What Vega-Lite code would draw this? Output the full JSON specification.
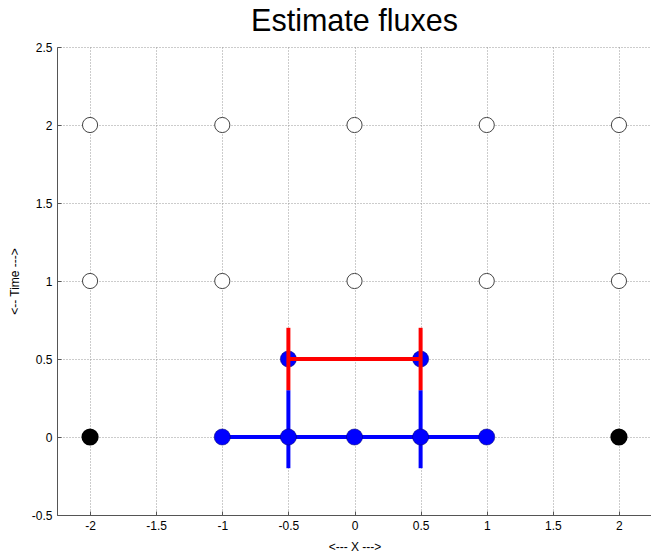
{
  "$schema": "https://vega.github.io/schema/vega-lite/v6.json",
  "width": 595,
  "height": 468,
  "autosize": {"type": "none"},
  "padding": {"left": 57, "top": 47, "right": 0, "bottom": 38},
  "background": "white",
  "config": {
    "font": "Liberation Sans",
    "view": {"stroke": null},
    "axis": {
      "grid": true,
      "gridColor": "#999999",
      "gridDash": [1, 2],
      "gridWidth": 1,
      "domainColor": "#555555",
      "domainWidth": 1,
      "tickColor": "#555555",
      "tickSize": -4,
      "labelColor": "black",
      "labelFontSize": 12,
      "labelFont": "Liberation Sans",
      "titleFont": "Liberation Sans",
      "titleFontWeight": "normal",
      "titleFontSize": 12,
      "titleColor": "black"
    }
  },
  "title": {
    "text": "Estimate fluxes",
    "fontSize": 30.5,
    "fontWeight": "normal",
    "font": "Liberation Sans",
    "color": "black",
    "anchor": "middle",
    "baseline": "bottom",
    "frame": "group",
    "offset": 12,
    "dy": 38
  },
  "datasets": {
    "segments": [
      {"x": -1, "y": 0, "x2": 1, "y2": 0, "c": "blue"},
      {"x": -0.5, "y": -0.2, "x2": -0.5, "y2": 0.3, "c": "blue"},
      {"x": 0.5, "y": -0.2, "x2": 0.5, "y2": 0.3, "c": "blue"}
    ],
    "redsegments": [
      {"x": -0.5, "y": 0.5, "x2": 0.5, "y2": 0.5, "c": "red"},
      {"x": -0.5, "y": 0.3, "x2": -0.5, "y2": 0.7, "c": "red"},
      {"x": 0.5, "y": 0.3, "x2": 0.5, "y2": 0.7, "c": "red"}
    ],
    "open": [
      {"x": -2, "y": 1}, {"x": -1, "y": 1}, {"x": 0, "y": 1}, {"x": 1, "y": 1}, {"x": 2, "y": 1},
      {"x": -2, "y": 2}, {"x": -1, "y": 2}, {"x": 0, "y": 2}, {"x": 1, "y": 2}, {"x": 2, "y": 2}
    ],
    "black": [
      {"x": -2, "y": 0}, {"x": 2, "y": 0}
    ],
    "bluepts": [
      {"x": -1, "y": 0}, {"x": -0.5, "y": 0}, {"x": 0, "y": 0}, {"x": 0.5, "y": 0}, {"x": 1, "y": 0},
      {"x": -0.5, "y": 0.5}, {"x": 0.5, "y": 0.5}
    ]
  },
  "layer": [
    {
      "data": {"name": "open"},
      "mark": {"type": "point", "shape": "circle", "filled": true, "fill": "white", "stroke": "#444444", "strokeWidth": 1, "size": 230, "opacity": 1},
      "encoding": {
        "x": {"field": "x", "type": "quantitative", "scale": {"domain": [-2.25, 2.25], "nice": false, "zero": false},
              "axis": {"values": [-2, -1.5, -1, -0.5, 0, 0.5, 1, 1.5, 2], "title": "<--- X --->", "titlePadding": 10, "labelPadding": 9, "labelExpr": "'' + datum.value"}},
        "y": {"field": "y", "type": "quantitative", "scale": {"domain": [-0.5, 2.5], "nice": false, "zero": false},
              "axis": {"values": [-0.5, 0, 0.5, 1, 1.5, 2, 2.5], "title": "<-- Time --->", "titlePadding": 10, "labelPadding": 9, "labelExpr": "'' + datum.value"}}
      }
    },
    {
      "data": {"name": "black"},
      "mark": {"type": "point", "shape": "circle", "filled": true, "fill": "black", "stroke": "black", "size": 230, "opacity": 1},
      "encoding": {
        "x": {"field": "x", "type": "quantitative"},
        "y": {"field": "y", "type": "quantitative"}
      }
    },
    {
      "data": {"name": "segments"},
      "mark": {"type": "rule", "color": "blue", "strokeWidth": 4},
      "encoding": {
        "x": {"field": "x", "type": "quantitative"},
        "y": {"field": "y", "type": "quantitative"},
        "x2": {"field": "x2"},
        "y2": {"field": "y2"}
      }
    },
    {
      "data": {"name": "bluepts"},
      "mark": {"type": "point", "shape": "circle", "filled": true, "fill": "blue", "stroke": "#000066", "strokeWidth": 0.5, "size": 260, "opacity": 1},
      "encoding": {
        "x": {"field": "x", "type": "quantitative"},
        "y": {"field": "y", "type": "quantitative"}
      }
    },
    {
      "data": {"name": "redsegments"},
      "mark": {"type": "rule", "color": "red", "strokeWidth": 4},
      "encoding": {
        "x": {"field": "x", "type": "quantitative"},
        "y": {"field": "y", "type": "quantitative"},
        "x2": {"field": "x2"},
        "y2": {"field": "y2"}
      }
    }
  ]
}
